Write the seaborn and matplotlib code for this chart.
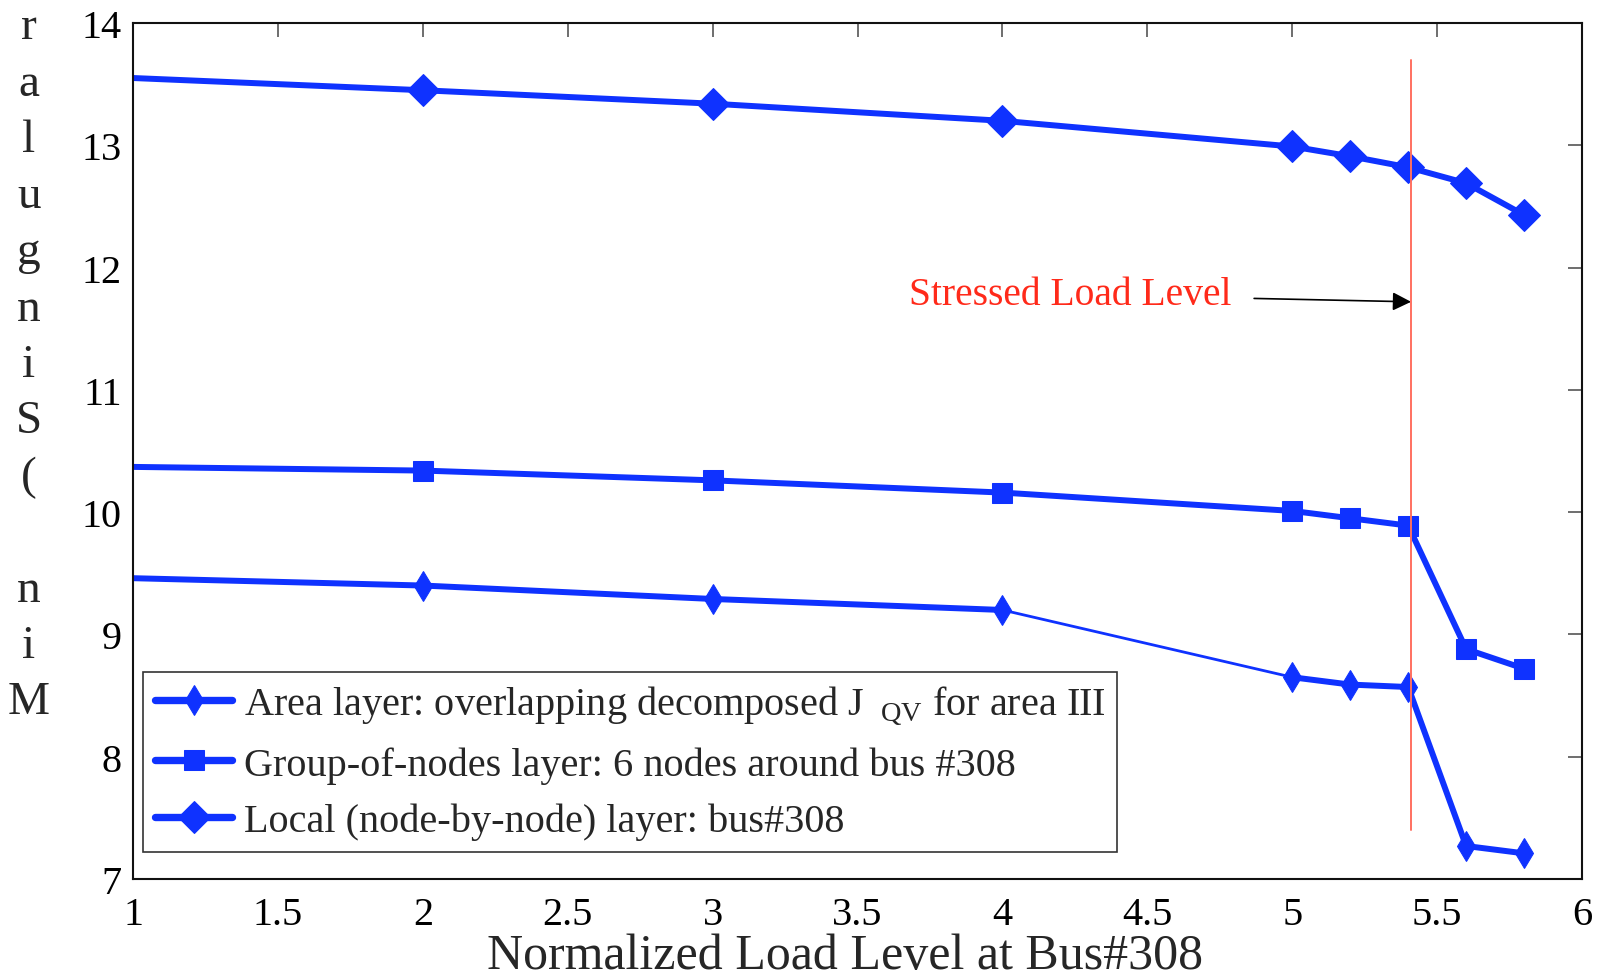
import matplotlib
matplotlib.use("Agg")
import matplotlib.pyplot as plt
import numpy as np
import pandas as pd
import seaborn as sns

# data
load_level = [1.0, 2.0, 3.0, 4.0, 5.0, 5.2, 5.4, 5.6, 5.8]
local_layer = [13.55, 13.45, 13.34, 13.20, 12.99, 12.91, 12.82, 12.69, 12.43]
group_layer = [10.37, 10.34, 10.26, 10.16, 10.01, 9.95, 9.89, 8.88, 8.72]
area_layer = [9.46, 9.40, 9.29, 9.20, 8.65, 8.59, 8.57, 7.27, 7.21]

stressed_level = 5.41
stressed_span = (7.4, 13.7)

x_ticks = [1, 1.5, 2, 2.5, 3, 3.5, 4, 4.5, 5, 5.5, 6]
x_tick_labels = ["1", "1.5", "2", "2.5", "3", "3.5", "4", "4.5", "5", "5.5", "6"]
y_ticks = [7, 8, 9, 10, 11, 12, 13, 14]

labels = [
    r"Area layer: overlapping decomposed J $\,_{\mathrm{QV}}$ for area III",
    "Group-of-nodes layer: 6 nodes around bus #308",
    "Local (node-by-node) layer: bus#308",
]
ylabel_text = "Min (Singular"

sns.set_style("white")
plt.rcParams["font.family"] = ["Liberation Serif", "DejaVu Serif"]
plt.rcParams["mathtext.fontset"] = "custom"
plt.rcParams["mathtext.rm"] = "Liberation Serif"

BLUE = "#0f32ff"
LW = 4.3

fig = plt.figure(figsize=(15.99, 9.79), dpi=100)
ax = fig.add_axes([0.0832, 0.1011, 0.9062, 0.8744])

df = pd.DataFrame({
    "x": load_level,
    "area": area_layer,
    "group": group_layer,
    "local": local_layer,
})

marks = list(range(1, len(load_level)))  # no marker at x = 1

# area layer: thin segment between 4 and 5, thick elsewhere
sns.lineplot(data=df, x="x", y="area", ax=ax, color=BLUE, lw=2.0,
             estimator=None, sort=False, label=labels[0],
             marker="d", markersize=15, markevery=marks,
             markeredgecolor=BLUE, markerfacecolor=BLUE)
sns.lineplot(data=df.iloc[:4], x="x", y="area", ax=ax, color=BLUE, lw=LW,
             estimator=None, sort=False, legend=False)
sns.lineplot(data=df.iloc[4:], x="x", y="area", ax=ax, color=BLUE, lw=LW,
             estimator=None, sort=False, legend=False)

sns.lineplot(data=df, x="x", y="group", ax=ax, color=BLUE, lw=LW,
             estimator=None, sort=False, label=labels[1],
             marker="s", markersize=15, markevery=marks,
             markeredgecolor=BLUE, markerfacecolor=BLUE)

sns.lineplot(data=df, x="x", y="local", ax=ax, color=BLUE, lw=LW,
             estimator=None, sort=False, label=labels[2],
             marker="D", markersize=16, markevery=marks,
             markeredgecolor=BLUE, markerfacecolor=BLUE)

ax.plot([stressed_level, stressed_level], stressed_span,
        color="#ff7060", lw=1.4, zorder=5)
ax.annotate("Stressed Load Level", xy=(stressed_level, 11.72),
            xytext=(4.79, 11.78), color="#ff2a1a", fontsize=28.5,
            ha="right", va="center",
            arrowprops=dict(arrowstyle="-|>", color="black", lw=1.2,
                            mutation_scale=28, shrinkA=14, shrinkB=0))

ax.set_xlim(1, 6)
ax.set_ylim(7, 14)
ax.set_xticks(x_ticks)
ax.set_xticklabels(x_tick_labels)
ax.set_yticks(y_ticks)
ax.tick_params(axis="both", direction="in", length=10, width=1.2,
               colors="#555555", labelcolor="black", labelsize=29,
               top=True, right=True, pad=8)
ax.tick_params(axis="x", pad=12)
for sp in ax.spines.values():
    sp.set_color("#111111")
    sp.set_linewidth(1.5)

ax.set_xlabel("Normalized Load Level at Bus#308", fontsize=36, labelpad=0)
ax.xaxis.set_label_coords(0.491, -0.063, transform=ax.transAxes)
ax.xaxis.label.set_va("top")
ax.set_ylabel("")
fig.text(0.018, 0.993, "\n".join(ylabel_text[::-1]),
         fontsize=34, ha="center", va="top", linespacing=1.423)

leg = ax.legend(loc="lower left", bbox_to_anchor=(0.007, 0.0315),
                fontsize=29, frameon=True, fancybox=False, handlelength=1.9,
                handletextpad=0.3, borderpad=0.3, labelspacing=0.47,
                borderaxespad=0)
leg.get_frame().set_edgecolor("black")
leg.get_frame().set_linewidth(1.2)
for h in leg.legend_handles:
    h.set_linewidth(LW + 1)

fig.savefig("out.png", dpi=100)
